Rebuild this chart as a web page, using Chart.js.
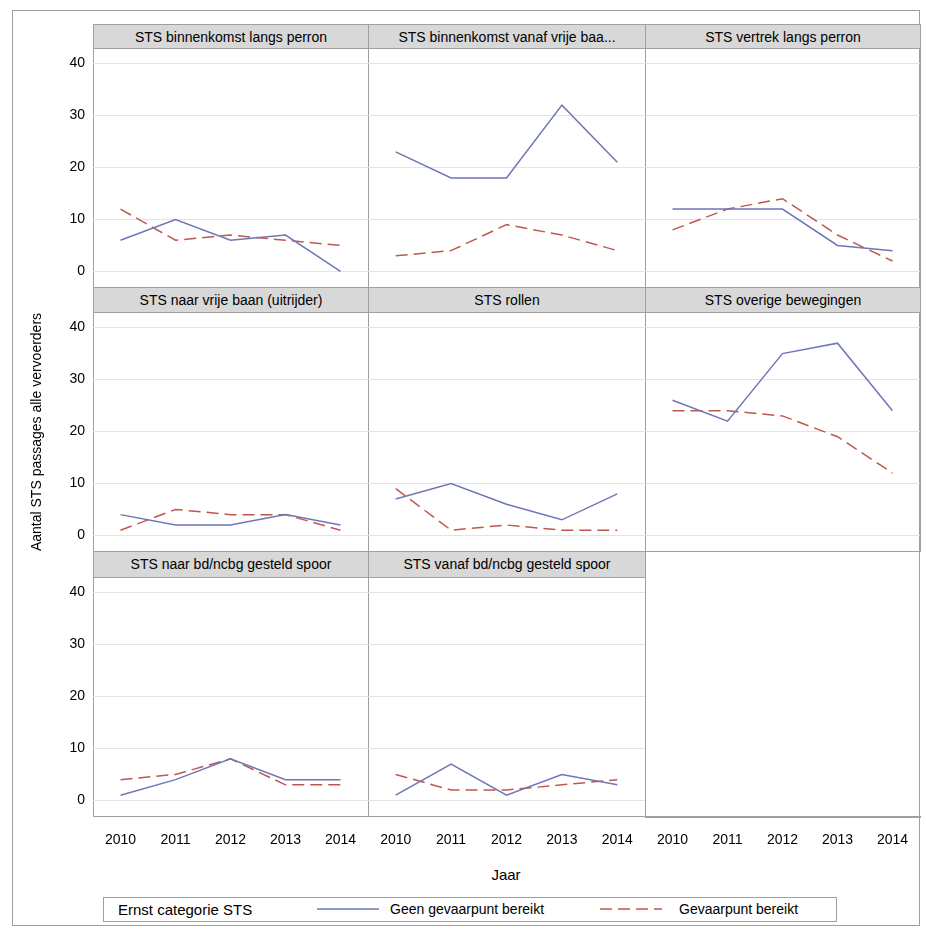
<!DOCTYPE html>
<html><head><meta charset="utf-8">
<script src="https://cdn.jsdelivr.net/npm/chart.js@4"></script>
<style>
body{margin:0;background:#fff;font-family:Arial,"Liberation Sans",sans-serif;}
#wrap{position:relative;width:926px;height:931px;}
.abs{position:absolute;}
.frame{position:absolute;border:1px solid #a0a0a0;box-sizing:border-box;}
.hdr{position:absolute;background:#d8d8d8;border:1px solid #a0a0a0;box-sizing:border-box;font-size:14px;text-align:center;line-height:24px;white-space:nowrap;overflow:hidden;color:#000;}
</style></head><body>
<div id="wrap"></div>
<script>
const years = ['2010', '2011', '2012', '2013', '2014'];
const yTicks = [0, 10, 20, 30, 40];
const titles = [
    'STS binnenkomst langs perron', 'STS binnenkomst vanaf vrije baa...', 'STS vertrek langs perron',
    'STS naar vrije baan (uitrijder)', 'STS rollen', 'STS overige bewegingen',
    'STS naar bd/ncbg gesteld spoor', 'STS vanaf bd/ncbg gesteld spoor'
];
const geen = [
    [6, 10, 6, 7, 0], [23, 18, 18, 32, 21], [12, 12, 12, 5, 4],
    [4, 2, 2, 4, 2], [7, 10, 6, 3, 8], [26, 22, 35, 37, 24],
    [1, 4, 8, 4, 4], [1, 7, 1, 5, 3]
];
const gevaar = [
    [12, 6, 7, 6, 5], [3, 4, 9, 7, 4], [8, 12, 14, 7, 2],
    [1, 5, 4, 4, 1], [9, 1, 2, 1, 1], [24, 24, 23, 19, 12],
    [4, 5, 8, 3, 3], [5, 2, 2, 3, 4]
];

const wrap = document.getElementById('wrap');
const colX = [93, 368, 645, 920];
const rowY = [[24, 48, 287], [287, 312, 551], [551, 577, 816]];
const YW = 53, XH = 44;

function add(cls, x, y, w, h, html) {
    const d = document.createElement('div');
    d.className = cls;
    Object.assign(d.style, { left: x + 'px', top: y + 'px', width: w + 'px', height: h + 'px' });
    if (html !== undefined) d.textContent = html;
    wrap.appendChild(d);
    return d;
}

add('frame', 12, 10, 908, 916);

for (let i = 0; i < 9; i++) {
    const c = i % 3, r = Math.floor(i / 3);
    const x0 = colX[c], x1 = colX[c + 1];
    const [hy, py, pb] = rowY[r];
    const empty = i === 8;
    if (!empty) {
        add('hdr', x0, hy, x1 - x0 + 1, py - hy + 1, titles[i]);
        add('frame', x0, py, x1 - x0 + 1, pb - py + 1);
    } else {
        add('frame', x0, pb, x1 - x0 + 1, 1);
    }
    const left = c === 0 ? YW : 0;
    const bottomAxis = r === 2;
    const cx = x0 - left, cy = py, cw = x1 - x0 + left, ch = pb - py + (bottomAxis ? XH : 0);
    const holder = add('abs', cx, cy, cw, ch);
    const cv = document.createElement('canvas');
    holder.appendChild(cv);
    new Chart(cv, {
        type: 'line',
        data: {
            labels: years,
            datasets: empty ? [] : [
                { label: 'Geen gevaarpunt bereikt', data: geen[i], borderColor: '#6d77b6', borderWidth: 1.5, pointRadius: 0, tension: 0 },
                { label: 'Gevaarpunt bereikt', data: gevaar[i], borderColor: '#c0574f', borderWidth: 1.5, borderDash: [12, 6], pointRadius: 0, tension: 0 }
            ]
        },
        options: {
            responsive: true, maintainAspectRatio: false, animation: false,
            layout: { padding: 0 },
            plugins: { legend: { display: false }, tooltip: { enabled: false } },
            scales: {
                x: {
                    offset: true,
                    display: bottomAxis,
                    grid: { display: false },
                    border: { display: false },
                    ticks: { color: '#000', font: { size: 14, family: 'Arial' }, padding: 8, maxRotation: 0 },
                    afterFit: s => { s.height = bottomAxis ? XH : 0; s.paddingLeft = 0; s.paddingRight = 0; }
                },
                y: {
                    min: -3, max: 43,
                    afterBuildTicks: s => { s.ticks = yTicks.map(v => ({ value: v })); },
                    grid: { color: empty ? 'rgba(0,0,0,0)' : '#e4e4e4', drawTicks: false },
                    border: { display: false },
                    ticks: { display: c === 0, color: '#000', font: { size: 14, family: 'Arial' }, padding: 8 },
                    afterFit: s => { s.width = left; s.paddingTop = 0; s.paddingBottom = 0; }
                }
            }
        }
    });
}

const yt = add('abs', 0, 0, 400, 20, 'Aantal STS passages alle vervoerders');
Object.assign(yt.style, { left: '-162px', top: '422px', fontSize: '14px', textAlign: 'center', transform: 'rotate(-90deg)' });
const xt = add('abs', 456, 866, 100, 20, 'Jaar');
Object.assign(xt.style, { fontSize: '15px', textAlign: 'center' });

const lg = add('frame', 103, 897, 734, 25);
lg.innerHTML = '<span style="position:absolute;left:14px;top:3px;font-size:15px">Ernst categorie STS</span>' +
    '<svg style="position:absolute;left:213px;top:5px" width="62" height="12"><line x1="0" y1="6" x2="62" y2="6" stroke="#6d77b6" stroke-width="1.5"/></svg>' +
    '<span style="position:absolute;left:286px;top:3px;font-size:14px">Geen gevaarpunt bereikt</span>' +
    '<svg style="position:absolute;left:496px;top:5px" width="62" height="12"><line x1="0" y1="6" x2="62" y2="6" stroke="#c0574f" stroke-width="1.5" stroke-dasharray="12,6"/></svg>' +
    '<span style="position:absolute;left:575px;top:3px;font-size:14px">Gevaarpunt bereikt</span>';
</script>
</body></html>
